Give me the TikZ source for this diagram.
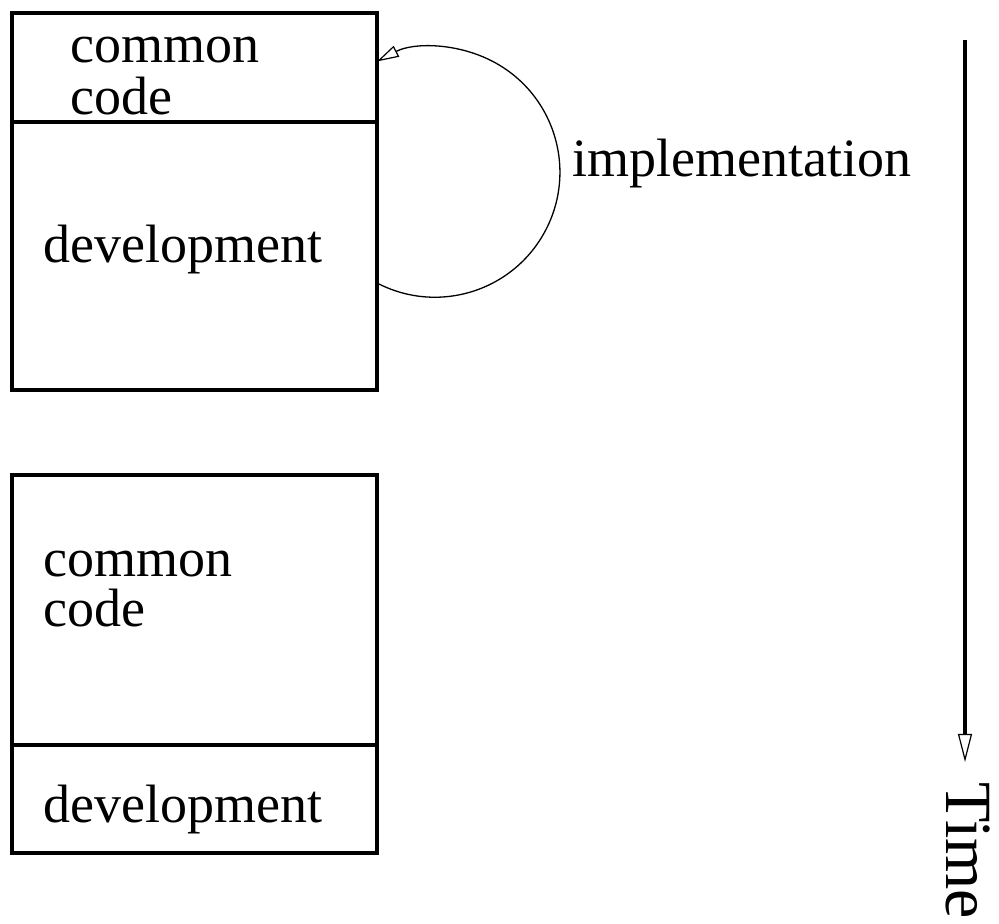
\documentclass[tikz,border=0pt]{standalone}
\usepackage{fontspec}
\setmainfont{Liberation Serif}
\usetikzlibrary{arrows.meta}
\begin{document}
\begin{tikzpicture}[x=1pt,y=1pt,
  part/.style={draw,line width=4pt,rectangle,inner sep=0pt},
  lbl/.style={anchor=base west,inner sep=0pt,font=\fontsize{54}{54}\selectfont},
  opentip/.style={-{Triangle[open,length=#1,width=0.55*#1,line width=1.2pt]}}]
\useasboundingbox (0,0) rectangle (999,924);

% first stage: small common part above a large development part
\node[part,minimum width=365pt,minimum height=109pt] (common1) at (194.5,856.5) {};
\node[part,minimum width=365pt,minimum height=268pt] (dev1) at (194.5,668) {};
\node[lbl] (common1t) at (70,861) {common};
\node[lbl] (code1t) at (70,809) {code};
\node[lbl] (dev1t) at (43,661) {development};

% second stage: large common part above a small development part
\node[part,minimum width=365pt,minimum height=270pt] (common2) at (194.5,314) {};
\node[part,minimum width=365pt,minimum height=108pt] (dev2) at (194.5,125) {};
\node[lbl] (common2t) at (43,347) {common};
\node[lbl] (code2t) at (43,297) {code};
\node[lbl] (dev2t) at (43,101) {development};

% loop from development back into common code
\coordinate (loopstart) at (377,641);
\draw[line width=1.3pt,opentip=22pt] (loopstart)
  arc[start angle=-117.6,end angle=117.6,radius=125];
\node[lbl] (impl) at (572,747) {implementation};

% time axis
\coordinate (ttop) at (965,884);
\coordinate (tend) at (965,162);
\draw[line width=3.5pt,-{Triangle[open,length=28pt,width=14pt,line width=1.2pt]}] (ttop) -- (tend);
\node[inner sep=0pt,anchor=base west,rotate=-90,font=\fontsize{66}{66}\selectfont] (time) at (946,142) {Time};
\end{tikzpicture}
\end{document}
